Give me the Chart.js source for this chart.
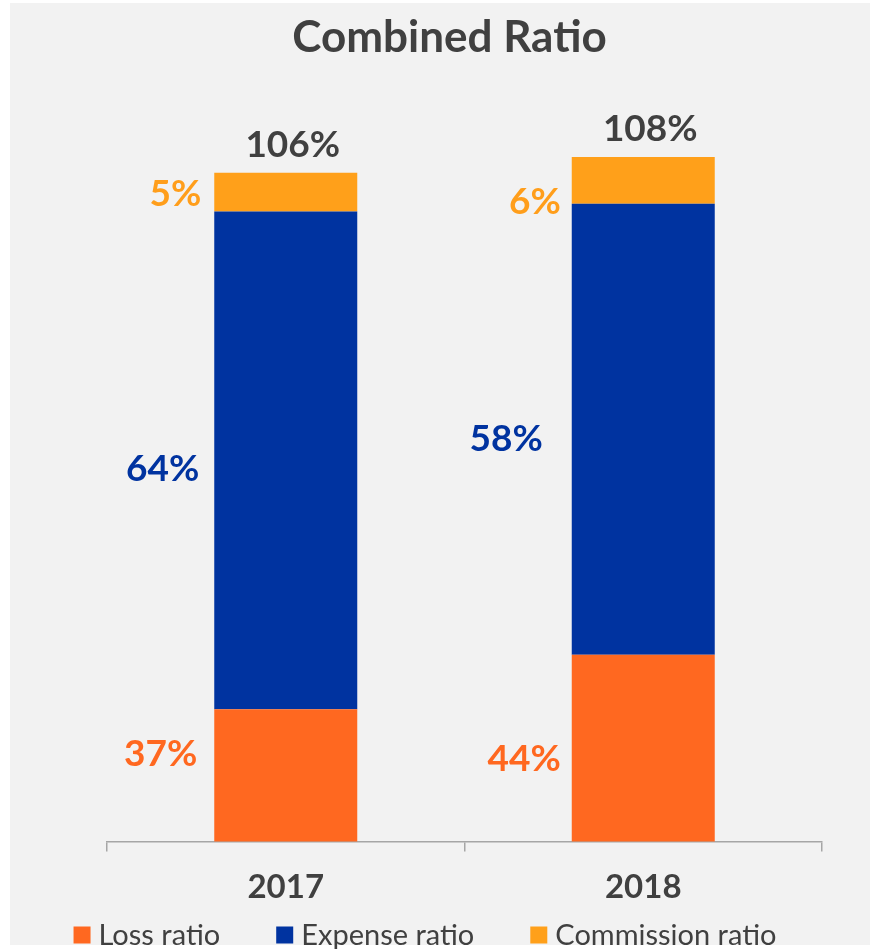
<!DOCTYPE html>
<html>
<head>
<meta charset="utf-8">
<script src="https://cdn.jsdelivr.net/npm/chart.js@4.4.1/dist/chart.umd.min.js"></script>
<style>
  html, body { margin: 0; padding: 0; background: #ffffff; }
  .panel { position: absolute; left: 10px; top: 3px; width: 860px; height: 942px; background: #f2f2f2; }
  .wrap { position: absolute; left: 0; top: 0; width: 870px; height: 949px; }
</style>
</head>
<body>
<div class="panel"></div>
<div class="wrap"><canvas id="ratioChart"></canvas></div>
<script>
// values
const years = ["2017", "2018"];
const lossRatio = [37, 44];
const expenseRatio = [64, 58];
const commissionRatio = [5, 6];
const seriesNames = ["Loss ratio", "Expense ratio", "Commission ratio"];

const barColors = ["#ff6820", "#0033a0", "#ffa01a"];
const textColors = ["#ff6820", "#0033a0", "#ff9e1b"];
const grey = "#404040";

// labels sit left of each segment, nudged like the original
const labelNudge = [
	[[-2, -21], [4, 11]],
	[[0, 9], [-14, 10]],
	[[2, 2], [4, 22]],
];

const segLabels = {
	id: "segLabels",
	afterDatasetsDraw(chart) {
		const ctx = chart.ctx;
		const area = chart.chartArea;
		ctx.save();
		ctx.font = "bold 37px Lato";
		ctx.textBaseline = "middle";
		chart.data.datasets.forEach((ds, di) => {
			chart.getDatasetMeta(di).data.forEach((bar, i) => {
				const top = bar.y;
				const bottom = Math.min(bar.base, area.bottom);
				const n = labelNudge[di][i];
				ctx.fillStyle = textColors[di];
				ctx.textAlign = "right";
				ctx.fillText(ds.data[i] + "%", bar.x - bar.width / 2 - 15 + n[0], (top + bottom) / 2 + n[1]);
			});
		});
		// totals on top
		const last = chart.getDatasetMeta(chart.data.datasets.length - 1);
		ctx.fillStyle = grey;
		ctx.textAlign = "center";
		last.data.forEach((bar, i) => {
			const total = lossRatio[i] + expenseRatio[i] + commissionRatio[i];
			ctx.fillText(total + "%", bar.x + 7, bar.y - 28);
		});
		ctx.restore();
	},
};

const bottomLegend = {
	id: "bottomLegend",
	afterDraw(chart) {
		const ctx = chart.ctx;
		ctx.save();
		ctx.font = "29px Lato";
		ctx.textBaseline = "middle";
		ctx.textAlign = "left";
		const box = 17, gapIn = 8, gapOut = 56, y = 935;
		const widths = seriesNames.map((s) => box + gapIn + ctx.measureText(s).width);
		const total = widths.reduce((a, b) => a + b, 0) + gapOut * (widths.length - 1);
		let x = 425 - total / 2;
		seriesNames.forEach((s, i) => {
			ctx.fillStyle = barColors[i];
			ctx.fillRect(x, y - box / 2, box, box);
			ctx.fillStyle = grey;
			ctx.fillText(s, x + box + gapIn, y + 1);
			x += widths[i] + gapOut;
		});
		ctx.restore();
	},
};

function draw() {
	new Chart(document.getElementById("ratioChart"), {
		type: "bar",
		data: {
			labels: years,
			datasets: [
				{ label: seriesNames[0], data: lossRatio, backgroundColor: barColors[0] },
				{ label: seriesNames[1], data: expenseRatio, backgroundColor: barColors[1] },
				{ label: seriesNames[2], data: commissionRatio, backgroundColor: barColors[2] },
			],
		},
		options: {
			responsive: true,
			maintainAspectRatio: false,
			animation: false,
			layout: { padding: { left: 77, right: 48, top: 0, bottom: 26 } },
			datasets: { bar: { barPercentage: 0.4, categoryPercentage: 1 } },
			plugins: {
				legend: { display: false },
				tooltip: { enabled: false },
				title: {
					display: true,
					text: "Combined Ratio",
					color: grey,
					font: { family: "Lato", size: 44, weight: "bold", lineHeight: 1.2 },
					padding: { top: 11, bottom: 0 },
				},
			},
			scales: {
				x: {
					stacked: true,
					grid: { drawOnChartArea: false, drawTicks: true, tickLength: 10, color: "#a6a6a6", lineWidth: 1.5 },
					border: { display: true, color: "#a6a6a6", width: 1.5 },
					ticks: { color: grey, padding: 16, font: { family: "Lato", size: 33, weight: "bold", lineHeight: 1.2 } },
				},
				y: {
					stacked: true,
					min: 20,
					max: 120,
					grid: { display: false },
					border: { display: false },
					ticks: { display: false },
					afterFit: (s) => { s.width = 30; },
				},
			},
		},
		plugins: [segLabels, bottomLegend],
	});
}

document.fonts.load("bold 40px Lato").then(draw, draw);
</script>
</body>
</html>
